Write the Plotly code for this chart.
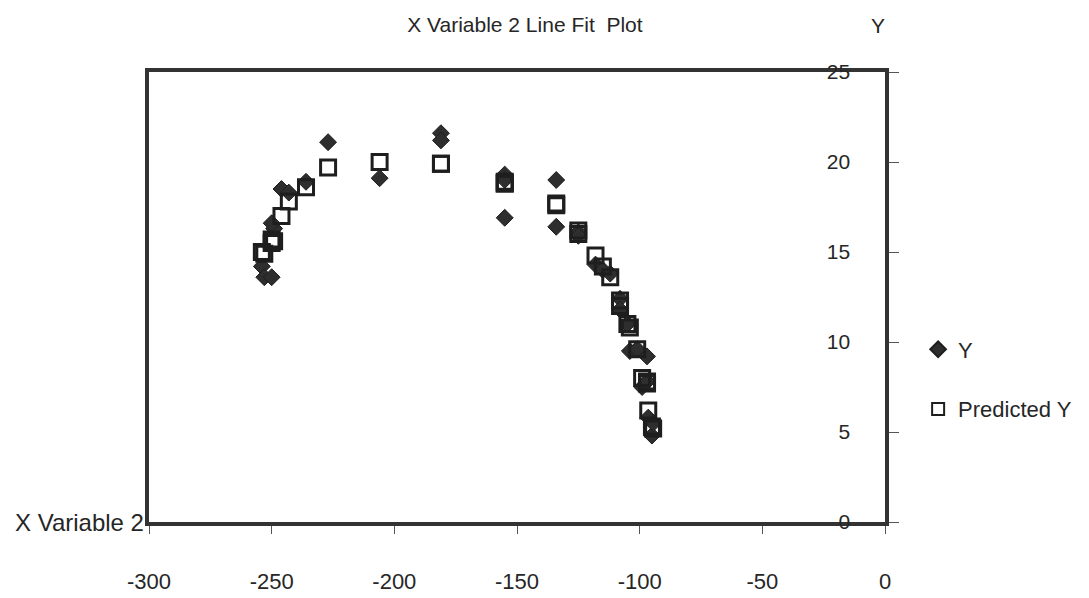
import plotly.graph_objects as go

# Observed values and the fitted line for X Variable 2
x_var2 = [-254, -253, -250, -249, -250, -246, -243, -236, -227, -206,
          -181, -181, -155, -155, -155, -134, -134, -125, -125, -118,
          -115, -112, -108, -108, -105, -104, -101, -97, -99, -97,
          -96.5, -95, -94.5]
y_obs = [14.2, 13.6, 13.6, 16.3, 16.6, 18.5, 18.3, 18.9, 21.1, 19.1,
         21.6, 21.2, 19.3, 16.9, 19.0, 19.0, 16.4, 16.1, 15.9, 14.3,
         14.0, 13.8, 12.4, 11.8, 11.0, 9.5, 9.6, 9.2, 7.5, 7.8,
         5.8, 4.8, 5.5]
y_pred = [15.0, 14.9, 15.5, 15.6, 15.7, 17.0, 17.8, 18.6, 19.7, 20.0,
          19.9, 19.9, 18.8, 18.8, 18.9, 17.6, 17.7, 16.2, 16.0, 14.8,
          14.2, 13.6, 12.3, 12.0, 11.0, 10.8, 9.6, 7.8, 8.0, 7.7,
          6.2, 5.3, 5.2]

x_ticks = [-300, -250, -200, -150, -100, -50, 0]
y_ticks = [0, 5, 10, 15, 20, 25]

ink = "#262626"
font_family = "Liberation Sans, Arial, sans-serif"

# plot area in pixels: left 149, right 890, top 72, bottom 522
L, R, T, B = 149, 890, 72, 522
W, H = 1089, 598


def px_to_paper(px, py):
    return (px - L) / (R - L), (B - py) / (B - T)


fig = go.Figure()
fig.add_trace(go.Scatter(
    x=x_var2, y=y_obs, mode="markers", name="Y", legendgroup="a",
    marker=dict(symbol="diamond", size=13, color="#2e2e2e",
                line=dict(width=1, color="#1e1e1e")),
))
fig.add_trace(go.Scatter(
    x=x_var2, y=y_pred, mode="markers", name="Predicted Y", legendgroup="b",
    marker=dict(symbol="square-open", size=15, color="#1e1e1e",
                line=dict(width=3, color="#1e1e1e")),
))

yx, yy = px_to_paper(883, 25)
lx, ly = px_to_paper(146, 522)

fig.update_layout(
    width=W, height=H,
    margin=dict(l=L, r=W - R, t=T, b=H - B),
    paper_bgcolor="white", plot_bgcolor="white",
    font=dict(family=font_family, size=21, color=ink),
    title=dict(text="X Variable 2 Line Fit  Plot", x=0.482, xref="container",
               y=0.958, yref="container", xanchor="center", yanchor="middle",
               font=dict(size=21, color=ink)),
    showlegend=True,
    legend=dict(x=1.045, y=0.43, xanchor="left", yanchor="top",
                tracegroupgap=28, font=dict(size=22, color=ink),
                bgcolor="rgba(0,0,0,0)", itemsizing="constant"),
    xaxis=dict(
        range=[-300, 0], tickvals=x_ticks, ticktext=[str(v) for v in x_ticks],
        showgrid=False, zeroline=False,
        showline=True, linewidth=4, linecolor="#333333", mirror=True,
        ticks="outside", ticklen=8, tickwidth=1, tickcolor="#555555",
        ticklabelstandoff=29, ticklabeloverflow="allow", automargin=False,
        tickfont=dict(size=22, color=ink),
    ),
    yaxis=dict(
        range=[0, 25], tickvals=y_ticks, side="right",
        showgrid=False, zeroline=False,
        showline=True, linewidth=4, linecolor="#333333", mirror=True,
        ticks="outside", ticklen=10, tickwidth=1, tickcolor="#555555",
        ticklabelposition="inside", ticklabelstandoff=36,
        ticklabeloverflow="allow", automargin=False,
        tickfont=dict(size=21, color=ink),
    ),
    annotations=[
        dict(text="Y", x=yx, y=yy, xref="paper", yref="paper", showarrow=False,
             xanchor="center", yanchor="middle", font=dict(size=21, color=ink)),
        dict(text="X Variable 2", x=lx, y=ly, xref="paper", yref="paper",
             xanchor="right", yanchor="middle", showarrow=False,
             font=dict(size=24, color=ink)),
    ],
)

fig.write_html("out.html")
